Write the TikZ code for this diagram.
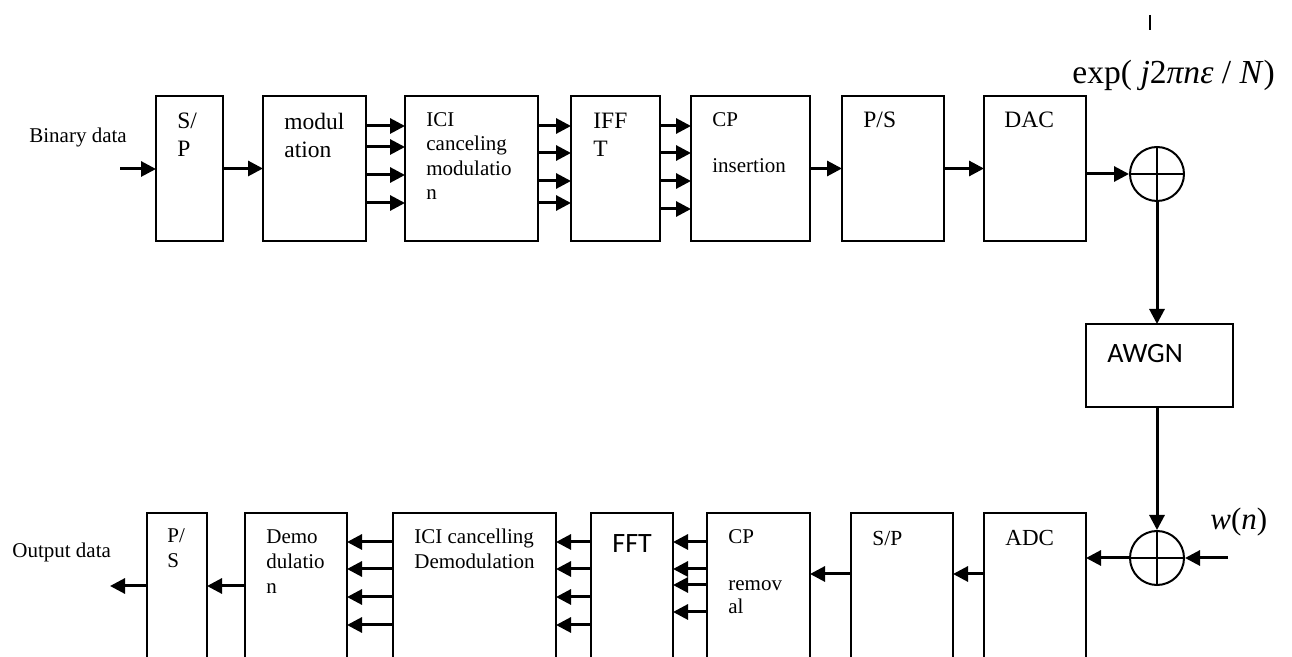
\documentclass[tikz,border=0pt]{standalone}
\usepackage{fontspec}
\setmainfont{Liberation Serif}
\newfontfamily\calfont{Carlito}
\usetikzlibrary{calc, positioning, fit}
\usetikzlibrary{arrows.meta}

\tikzset{
  blk/.style={draw, line width=1pt, inner sep=0pt, outer sep=0pt},
  sum/.style={draw, circle, line width=1pt, minimum size=27pt, inner sep=0pt,
    path picture={\draw[line width=1pt] (path picture bounding box.north) -- (path picture bounding box.south)
      (path picture bounding box.west) -- (path picture bounding box.east);}},
  sig/.style={line width=1.5pt, -{Triangle[length=7.5pt, width=7.5pt]}},
  txt/.style={inner sep=0pt, align=left, font=\fontsize{11.75}{14}\selectfont},
  txs/.style={inner sep=0pt, align=left, font=\fontsize{10.5}{12.5}\selectfont},
}

\begin{document}
\begin{tikzpicture}[x=0.5pt, y=-0.5pt]
\useasboundingbox (0,0) rectangle (1292,657);
\clip (0,0) rectangle (1292,657);

\node[blk, fit={(156,96) (223,241)}] (sp) {};
\node[blk, fit={(263,96) (366,241)}] (mod) {};
\node[blk, fit={(405,96) (538,241)}] (ici) {};
\node[blk, fit={(571,96) (660,241)}] (ifft) {};
\node[blk, fit={(691,96) (810,241)}] (cpi) {};
\node[blk, fit={(842,96) (944,241)}] (ps) {};
\node[blk, fit={(984,96) (1086,241)}] (dac) {};
\node[sum] (addT) at (1157,174) {};

\node[blk, fit={(1086,324) (1233,407)}] (awgn) {};

\node[sum] (addB) at (1157,558) {};
\node[blk, fit={(984,513) (1086,680)}] (adc) {};
\node[blk, fit={(851,513) (953,680)}] (sprx) {};
\node[blk, fit={(707,513) (810,680)}] (cpr) {};
\node[blk, fit={(591,513) (673,680)}] (fft) {};
\node[blk, fit={(393,513) (556,680)}] (icid) {};
\node[blk, fit={(245,513) (347,680)}] (demod) {};
\node[blk, fit={(147,513) (207,680)}] (psrx) {};

\node[txs, anchor=base west] (bintxt) at (29,143) {Binary data};
\node[txt, anchor=north west] (sptxt) at (177,113) {S/\\P};
\node[txt, anchor=north west] (modtxt) at (284,113) {modul\\ation};
\node[txs, font=\fontsize{10.5}{12.25}\selectfont, anchor=north west] (icitxt) at (426,112) {ICI\\canceling\\modulatio\\n};
\node[txt, anchor=north west] (iffttxt) at (593,113) {IFF\\T};
\node[txs, font=\fontsize{10.5}{12.25}\selectfont, anchor=north west] (cpitxt) at (712,112) {CP\\[11pt]insertion};
\node[txt, anchor=base west] (pstxt) at (863,128) {P/S};
\node[txt, anchor=base west] (dactxt) at (1004,128) {DAC};
\node[inner sep=0pt, anchor=base west, font=\fontsize{16.8}{20}\selectfont] (cfo) at (1072,84) {exp( \textit{j}2\textit{πnε} / \textit{N})};
\node[inner sep=0pt, anchor=base west, font=\calfont\fontsize{14}{17}\selectfont] (awgntxt) at (1107,363) {AWGN};
\node[inner sep=0pt, anchor=base west, font=\fontsize{15.5}{18}\selectfont] (wntxt) at (1210,530) {\textit{w}(\textit{n})};

\node[txs, anchor=base west] (outtxt) at (12,558) {Output data};
\node[txs, anchor=north west] (psrxtxt) at (167,528.5) {P/\\S};
\node[txs, anchor=north west] (demtxt) at (266,529) {Demo\\dulatio\\n};
\node[txs, anchor=north west] (icidtxt) at (414,529) {ICI cancelling\\Demodulation};
\node[inner sep=0pt, anchor=base west, font=\calfont\fontsize{14}{17}\selectfont] (ffttxt) at (612,553) {FFT};
\node[txs, font=\fontsize{10.5}{11.5}\selectfont, anchor=north west] (cprtxt) at (728,529) {CP\\[12pt]remov\\al};
\node[txs, font=\fontsize{10.75}{13}\selectfont, anchor=base west] (sprxtxt) at (872,546) {S/P};
\node[txt, font=\fontsize{11.5}{14}\selectfont, anchor=base west] (adctxt) at (1005,546) {ADC};

\coordinate (bin) at (120,169);
\coordinate (tickA) at (1150,15);
\coordinate (tickB) at (1150,30);
\coordinate (wn) at (1228,558);
\coordinate (out) at (110,586);

\draw[line width=1.2pt] (tickA) -- (tickB);

\draw[sig] (bin) -- (bin -| sp.west);
\draw[sig] (sp.east) -- (mod.west);
\draw[sig] ($(mod.north east)+(0,30)$) -- ($(ici.north west)+(0,30)$);
\draw[sig] ($(mod.north east)+(0,51)$) -- ($(ici.north west)+(0,51)$);
\draw[sig] ($(mod.north east)+(0,79)$) -- ($(ici.north west)+(0,79)$);
\draw[sig] ($(mod.north east)+(0,107)$) -- ($(ici.north west)+(0,107)$);
\draw[sig] ($(ici.north east)+(0,30)$) -- ($(ifft.north west)+(0,30)$);
\draw[sig] ($(ici.north east)+(0,57)$) -- ($(ifft.north west)+(0,57)$);
\draw[sig] ($(ici.north east)+(0,85)$) -- ($(ifft.north west)+(0,85)$);
\draw[sig] ($(ici.north east)+(0,107)$) -- ($(ifft.north west)+(0,107)$);
\draw[sig] ($(ifft.north east)+(0,30)$) -- ($(cpi.north west)+(0,30)$);
\draw[sig] ($(ifft.north east)+(0,57)$) -- ($(cpi.north west)+(0,57)$);
\draw[sig] ($(ifft.north east)+(0,85)$) -- ($(cpi.north west)+(0,85)$);
\draw[sig] ($(ifft.north east)+(0,113)$) -- ($(cpi.north west)+(0,113)$);
\draw[sig] (cpi.east) -- (ps.west);
\draw[sig] (ps.east) -- (dac.west);
\draw[sig] (dac.east |- addT) -- (addT.west);

\draw[sig] (addT.south) -- (addT.south |- awgn.north);
\draw[sig] (addB |- awgn.south) -- (addB.north);
\draw[sig] (wn) -- (addB.east);
\draw[sig] (addB.west) -- (addB.west -| adc.east);

\draw[sig] ($(adc.north west)+(0,61)$) -- ($(sprx.north east)+(0,61)$);
\draw[sig] ($(sprx.north west)+(0,61)$) -- ($(cpr.north east)+(0,61)$);
\draw[sig] ($(cpr.north west)+(0,29)$) -- ($(fft.north east)+(0,29)$);
\draw[sig] ($(cpr.north west)+(0,56)$) -- ($(fft.north east)+(0,56)$);
\draw[sig] ($(cpr.north west)+(0,72)$) -- ($(fft.north east)+(0,72)$);
\draw[sig] ($(cpr.north west)+(0,99)$) -- ($(fft.north east)+(0,99)$);
\draw[sig] ($(fft.north west)+(0,29)$) -- ($(icid.north east)+(0,29)$);
\draw[sig] ($(fft.north west)+(0,56)$) -- ($(icid.north east)+(0,56)$);
\draw[sig] ($(fft.north west)+(0,84)$) -- ($(icid.north east)+(0,84)$);
\draw[sig] ($(fft.north west)+(0,112)$) -- ($(icid.north east)+(0,112)$);
\draw[sig] ($(icid.north west)+(0,29)$) -- ($(demod.north east)+(0,29)$);
\draw[sig] ($(icid.north west)+(0,56)$) -- ($(demod.north east)+(0,56)$);
\draw[sig] ($(icid.north west)+(0,84)$) -- ($(demod.north east)+(0,84)$);
\draw[sig] ($(icid.north west)+(0,112)$) -- ($(demod.north east)+(0,112)$);
\draw[sig] ($(demod.north west)+(0,73)$) -- ($(psrx.north east)+(0,73)$);
\draw[sig] (out -| psrx.west) -- (out);
\end{tikzpicture}
\end{document}
